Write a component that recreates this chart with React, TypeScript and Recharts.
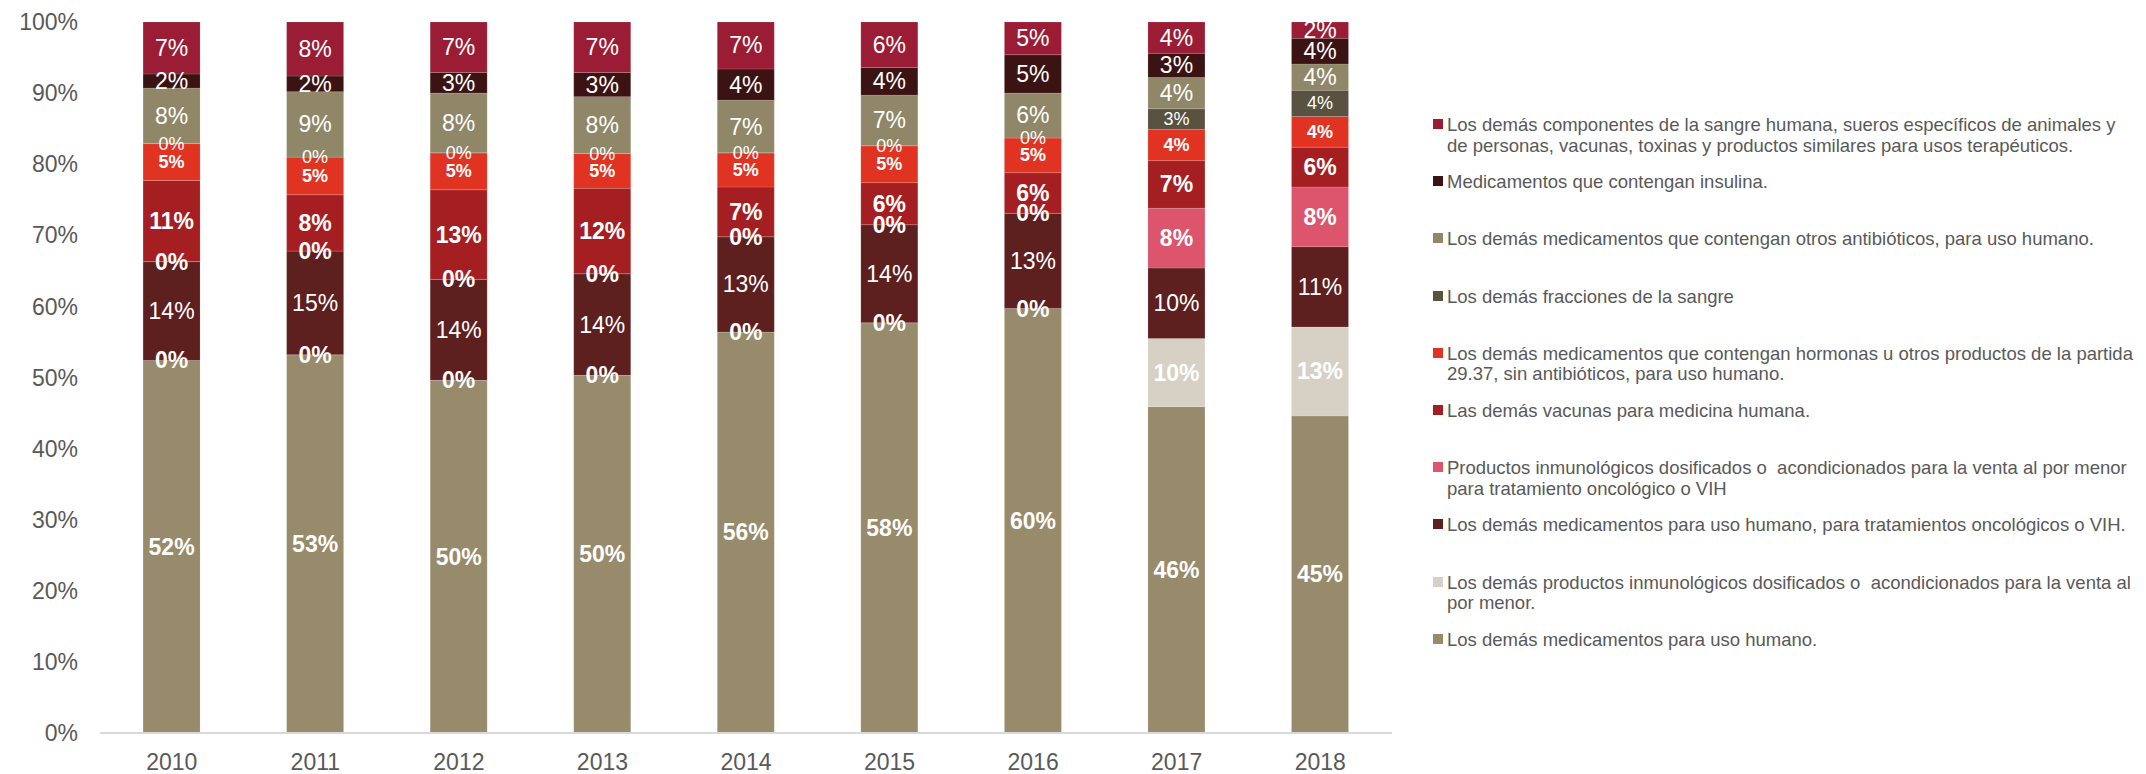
import { BarChart, Bar, XAxis, YAxis, LabelList } from 'recharts';

const FONT = '"Liberation Sans", Arial, sans-serif';
const PLOT_TOP = 22;

const years = ['2010', '2011', '2012', '2013', '2014', '2015', '2016', '2017', '2018'];

// shares per year, in %, bottom of the stack first
const usoHumano = [52.4, 53.2, 49.6, 50.3, 56.4, 57.7, 59.7, 45.9, 44.6];
const inmunoVenta = [0, 0, 0, 0, 0, 0, 0, 9.6, 12.5];
const oncologicos = [13.9, 14.6, 14.2, 14.3, 13.4, 13.8, 13.4, 9.9, 11.3];
const inmunoOncol = [0, 0, 0, 0, 0, 0, 0, 8.4, 8.4];
const vacunas = [11.4, 7.9, 12.6, 12.0, 7.0, 5.9, 5.7, 6.7, 5.6];
const hormonas = [5.2, 5.3, 5.2, 4.9, 4.8, 5.2, 4.9, 4.4, 4.3];
const fracciones = [0, 0, 0, 0, 0, 0, 0, 2.9, 3.7];
const antibioticos = [7.8, 9.2, 8.4, 8.0, 7.4, 7.1, 6.3, 4.4, 3.7];
const insulina = [2.0, 2.2, 2.9, 3.4, 4.4, 3.9, 5.4, 3.4, 3.6];
const componentes = [7.3, 7.6, 7.1, 7.1, 6.6, 6.4, 4.6, 4.4, 2.3];

const yTicks = [0, 10, 20, 30, 40, 50, 60, 70, 80, 90, 100];

const series = [
  { key: 'usoHumano', values: usoHumano, color: '#978B6B', bold: true, size: 23,
    name: 'Los demás medicamentos para uso humano.' },
  { key: 'inmunoVenta', values: inmunoVenta, color: '#D6D1C4', bold: true, size: 23,
    name: 'Los demás productos inmunológicos dosificados o  acondicionados para la venta al\npor menor.' },
  { key: 'oncologicos', values: oncologicos, color: '#5E1F1F', bold: false, size: 23,
    name: 'Los demás medicamentos para uso humano, para tratamientos oncológicos o VIH.' },
  { key: 'inmunoOncol', values: inmunoOncol, color: '#DC556D', bold: true, size: 23,
    name: 'Productos inmunológicos dosificados o  acondicionados para la venta al por menor\npara tratamiento oncológico o VIH' },
  { key: 'vacunas', values: vacunas, color: '#A51F22', bold: true, size: 23,
    name: 'Las demás vacunas para medicina humana.' },
  { key: 'hormonas', values: hormonas, color: '#E03322', bold: true, size: 18,
    name: 'Los demás medicamentos que contengan hormonas u otros productos de la partida\n29.37, sin antibióticos, para uso humano.' },
  { key: 'fracciones', values: fracciones, color: '#5A5240', bold: false, size: 18,
    name: 'Los demás fracciones de la sangre' },
  { key: 'antibioticos', values: antibioticos, color: '#8F8767', bold: false, size: 23,
    name: 'Los demás medicamentos que contengan otros antibióticos, para uso humano.' },
  { key: 'insulina', values: insulina, color: '#3C1313', bold: false, size: 23,
    name: 'Medicamentos que contengan insulina.' },
  { key: 'componentes', values: componentes, color: '#9B1D35', bold: false, size: 23,
    name: 'Los demás componentes de la sangre humana, sueros específicos de animales y\nde personas, vacunas, toxinas y productos similares para usos terapéuticos.' },
];

const data = years.map((year, i) => {
  const row: Record<string, string | number> = { year };
  series.forEach((s) => {
    row[s.key] = s.values[i];
  });
  return row;
});

const makeLabel = (key: string, bold: boolean, size: number) => (props: any) => {
  const { x, y, width, height, value, index } = props;
  if (value == null) return null;
  const cx = Number(x) + Number(width) / 2;
  const h = Number(height) < 0.5 ? 0 : Number(height);
  const cy = Number(y) + h / 2;
  const clipId = `clip-${key}-${index}`;
  return (
    <g>
      <defs>
        <clipPath id={clipId}>
          <rect x={cx - 60} y={PLOT_TOP} width={120} height={774} />
        </clipPath>
      </defs>
      <text
        x={cx}
        y={cy}
        textAnchor="middle"
        dominantBaseline="central"
        fill="#ffffff"
        fontSize={size}
        fontWeight={bold ? 700 : 400}
        fontFamily={FONT}
        clipPath={`url(#${clipId})`}
      >
        {Math.round(Number(value))}%
      </text>
    </g>
  );
};

function LegendBox() {
  const items = [...series].reverse();
  return (
    <div style={{ position: 'absolute', left: 1433, top: 115, width: 713, fontFamily: FONT }}>
      {items.map((s, i) => (
        <div key={s.key} style={{ position: 'absolute', left: 0, top: i * 57.2 }}>
          <span
            style={{ position: 'absolute', left: 0, top: 4, width: 10, height: 10, background: s.color }}
          />
          <div
            style={{
              position: 'absolute',
              left: 14,
              top: 0,
              fontSize: 18.5,
              lineHeight: '20.5px',
              color: '#595959',
              whiteSpace: 'pre',
            }}
          >
            {s.name}
          </div>
        </div>
      ))}
    </div>
  );
}

export default function App() {
  return (
    <div style={{ position: 'absolute', left: 0, top: 0, width: 2146, height: 774, background: '#fff' }}>
      <BarChart
        width={2146}
        height={774}
        data={data}
        stackOffset="expand"
        barCategoryGap="30%"
        margin={{ top: PLOT_TOP, right: 754, left: 0, bottom: 0 }}
      >
        <XAxis
          dataKey="year"
          height={41}
          axisLine={{ stroke: '#D9D9D9', strokeWidth: 2 }}
          tickLine={false}
          tickMargin={15}
          tick={{ fill: '#595959', fontSize: 23, fontFamily: FONT }}
        />
        <YAxis
          width={100}
          domain={[0, 1]}
          ticks={yTicks.map((t) => t / 100)}
          tickFormatter={(v: number) => `${Math.round(v * 100)}%`}
          axisLine={false}
          tickLine={false}
          tickMargin={16}
          tick={{ fill: '#595959', fontSize: 23, fontFamily: FONT }}
        />
        {series.map((s) => (
          <Bar
            key={s.key}
            dataKey={s.key}
            name={s.name}
            stackId="a"
            fill={s.color}
            stroke="rgba(255,255,255,0.18)"
            strokeWidth={0.75}
            minPointSize={0.01}
            isAnimationActive={false}
          >
            <LabelList dataKey={s.key} content={makeLabel(s.key, s.bold, s.size)} />
          </Bar>
        ))}
      </BarChart>
      <LegendBox />
    </div>
  );
}
